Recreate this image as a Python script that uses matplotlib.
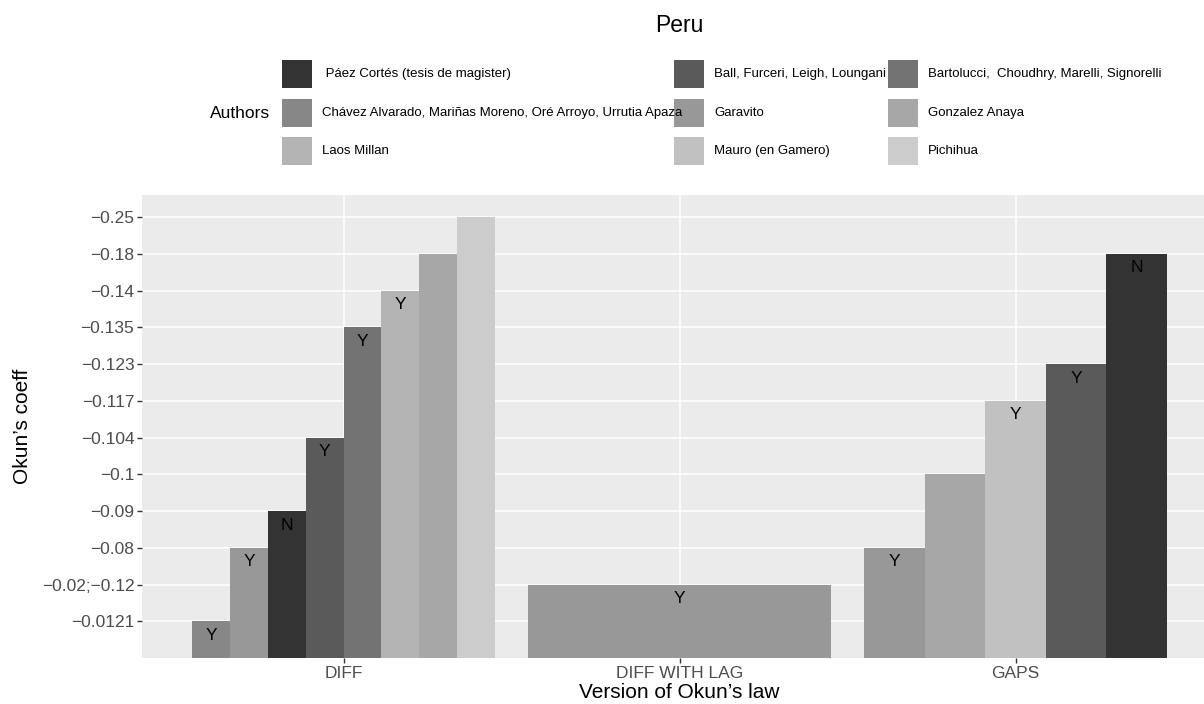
import matplotlib
matplotlib.use("Agg")
import matplotlib.pyplot as plt
from matplotlib.patches import Rectangle
import numpy as np

plt.rcParams['font.family'] = ['Liberation Sans', 'DejaVu Sans']

title = "Peru"
versions = ["DIFF", "DIFF WITH LAG", "GAPS"]
y_levels = ["−0.0121", "−0.02;−0.12", "−0.08", "−0.09", "−0.1", "−0.104",
            "−0.117", "−0.123", "−0.135", "−0.14", "−0.18", "−0.25"]
authors = [" Páez Cortés (tesis de magister)",
           "Ball, Furceri, Leigh, Loungani",
           "Bartolucci,  Choudhry, Marelli, Signorelli",
           "Chávez Alvarado, Mariñas Moreno, Oré Arroyo, Urrutia Apaza",
           "Garavito",
           "Gonzalez Anaya",
           "Laos Millan",
           "Mauro (en Gamero)",
           "Pichihua"]

# bars: version, author index, coefficient level, significance label
bar_version = ["DIFF"] * 8 + ["DIFF WITH LAG"] + ["GAPS"] * 5
bar_author = [3, 4, 0, 1, 2, 6, 5, 8,
              4,
              4, 5, 7, 1, 0]
bar_coeff = ["−0.0121", "−0.08", "−0.09", "−0.104", "−0.135", "−0.14", "−0.18", "−0.25",
             "−0.02;−0.12",
             "−0.08", "−0.1", "−0.117", "−0.123", "−0.18"]
bar_label = ["Y", "Y", "N", "Y", "Y", "Y", "", "",
             "Y",
             "Y", "", "Y", "Y", "N"]

# ggplot scale_fill_grey(start=0.2, end=0.8) colours
gamma = 2.2
n = len(authors)
lv = np.linspace(0.2 ** gamma, 0.8 ** gamma, n) ** (1 / gamma)
fills = [(v, v, v) for v in lv]

W, H = 1204, 704
fig = plt.figure(figsize=(W / 100, H / 100), dpi=100)
px_left, px_top, px_bottom = 142, 195, 658
unit = 336
ax = fig.add_axes([px_left / W, (H - px_bottom) / H, 3.2 * unit / W, (px_bottom - px_top) / H])
ax.set_facecolor("#EBEBEB")
for s in ax.spines.values():
    s.set_visible(False)

ax.set_xlim(0.4, 3.6)
ax.set_ylim(0, 12.6)
ax.set_xticks(range(1, len(versions) + 1))
ax.set_xticklabels(versions)
ax.set_yticks(range(1, len(y_levels) + 1))
ax.set_yticklabels(y_levels)
ax.grid(True, color="white", linewidth=1.1)
ax.set_axisbelow(True)
ax.tick_params(axis="both", colors="#333333", length=3.5, width=1.0, labelsize=12.5,
               labelcolor="#4D4D4D")
ax.tick_params(axis="x", pad=2.0)
ax.tick_params(axis="y", pad=2)

total_w = 0.9
for v_i, v in enumerate(versions):
    idx = [i for i, bv in enumerate(bar_version) if bv == v]
    k = len(idx)
    w = total_w / k
    for j, i in enumerate(idx):
        xc = (v_i + 1) - total_w / 2 + w * (j + 0.5)
        h = y_levels.index(bar_coeff[i]) + 1
        ax.bar(xc, h, width=w, color=fills[bar_author[i]], linewidth=0, zorder=2)
        if bar_label[i]:
            ax.annotate(bar_label[i], (xc, h), xytext=(0, -14), textcoords="offset pixels",
                        ha="center", va="center", fontsize=12.5, color="black", zorder=3)

# titles
fig.text(679 / W, 1 - 26 / H, title, ha="center", va="center", fontsize=16.5)
fig.text(679 / W, 1 - 693 / H, "Version of Okun’s law", ha="center", va="center", fontsize=15)
fig.text(22 / W, 1 - 426 / H, "Okun’s coeff", ha="center", va="center", fontsize=15, rotation=90)

# legend (ggplot style, title at left, 3 columns by row)
fig.text(270 / W, 1 - 113 / H, "Authors", ha="right", va="center", fontsize=12.5)
col_x = [282, 674, 888]
row_y = [74, 113, 151]
kw, kh = 30, 28
for a_i, name in enumerate(authors):
    r, c = divmod(a_i, 3)
    x0 = col_x[c]
    yc = row_y[r]
    fig.patches.append(Rectangle((x0 / W, 1 - (yc + kh / 2) / H), kw / W, kh / H,
                                 transform=fig.transFigure, facecolor=fills[a_i],
                                 edgecolor="none"))
    fig.text((x0 + kw + 10) / W, 1 - yc / H, name, ha="left", va="center", fontsize=9.5)

fig.savefig("out.png", dpi=100)
